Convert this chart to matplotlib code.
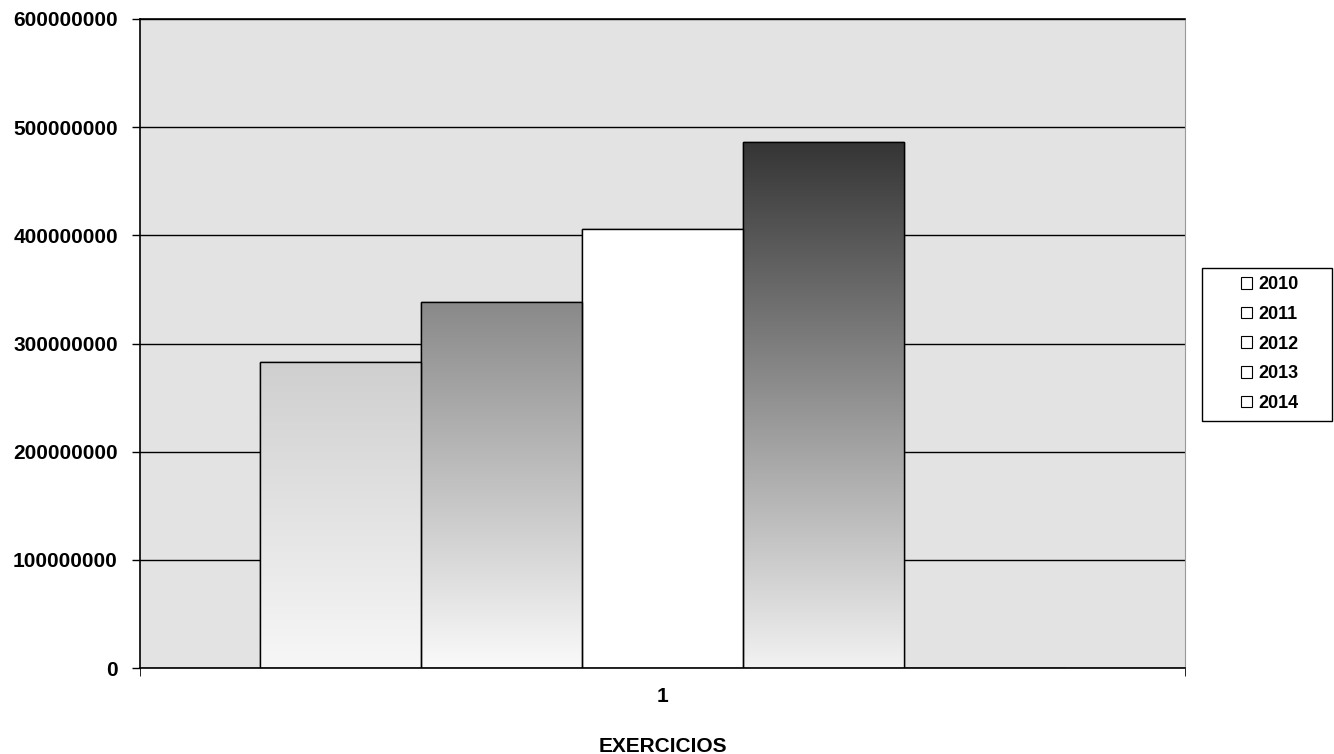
import matplotlib
matplotlib.use('Agg')
import matplotlib.pyplot as plt
import numpy as np
from matplotlib.patches import Patch, Rectangle
from matplotlib.colors import LinearSegmentedColormap

plt.rcParams['font.family'] = ['Liberation Sans', 'DejaVu Sans']
plt.rcParams['font.weight'] = 'bold'

years = ['2010', '2011', '2012', '2013', '2014']
values = [283000000, 338000000, 406000000, 486000000, 0]
category = [1]

# top colour, bottom colour of each bar's gradient
shades = [('#cfcfcf', '#f7f7f7'), ('#898989', '#fafafa'), ('#ffffff', '#ffffff'),
          ('#353535', '#f2f2f2'), ('#ffffff', '#ffffff')]

fig = plt.figure(figsize=(13.34, 7.54), dpi=100)
ax = fig.add_axes([140/1334, 1-668/754, 1045/1334, 649/754])
ax.set_facecolor('#e3e3e3')

w = 0.154
offsets = (np.arange(len(years)) - 2) * w
for i, (yr, v) in enumerate(zip(years, values)):
    bars = ax.bar(category[0] + offsets[i], v, width=w, facecolor='white',
                  edgecolor='black', linewidth=1.0, zorder=2)
    p = bars[0]
    if v > 0:
        top, bottom = shades[i]
        cmap = LinearSegmentedColormap.from_list('g', [bottom, top])
        grad = np.linspace(0, 1, 256).reshape(-1, 1)
        im = ax.imshow(grad, cmap=cmap, aspect='auto', origin='lower',
                       extent=[p.get_x(), p.get_x() + p.get_width(), 0, v],
                       zorder=2.5)
        im.set_clip_path(p)
        ax.add_patch(plt.Rectangle((p.get_x(), 0), p.get_width(), v, fill=False,
                                   edgecolor='black', linewidth=1.0, zorder=3))

ax.set_xlim(0.5, 1.5)
ax.set_ylim(0, 600000000)
ax.set_yticks(np.arange(0, 600000001, 100000000))
ax.set_yticklabels([str(int(t)) for t in np.arange(0, 600000001, 100000000)],
                   fontsize=15, fontweight='bold')
ax.yaxis.grid(True, color='black', linewidth=1.0, zorder=1)
ax.set_axisbelow(True)

ax.set_xticks([1])
ax.set_xticklabels(['1'], fontsize=15, fontweight='bold')
ax.tick_params(axis='x', length=0, pad=14)
ax.set_xticks([0.5, 1.5], minor=True)
ax.tick_params(axis='x', which='minor', length=6, direction='out')
ax.tick_params(axis='y', length=6, direction='out', width=1, pad=10)

for s in ['left', 'bottom', 'top']:
    ax.spines[s].set_color('black')
    ax.spines[s].set_linewidth(1.2)
ax.spines['right'].set_color('#9a9a9a')

ax.set_xlabel('EXERCICIOS', fontsize=15, fontweight='bold', labelpad=22)

# legend box drawn separately so it can be wider than its entries
fig.patches.append(Rectangle((1202/1334, 1-421/754), 130/1334, 153/754,
                             transform=fig.transFigure, facecolor='white',
                             edgecolor='black', linewidth=1.0, zorder=0))
handles = [Patch(facecolor='white', edgecolor='black', linewidth=0.8) for _ in years]
leg = fig.legend(handles, years, loc='center', bbox_to_anchor=(1270/1334, 1-344/754),
                 frameon=False, fontsize=13,
                 handlelength=0.6, handleheight=0.6, handletextpad=0.35,
                 labelspacing=0.7, borderpad=0.55, borderaxespad=0)
for t in leg.get_texts():
    t.set_fontweight('bold')

fig.savefig('out.png', dpi=100)
